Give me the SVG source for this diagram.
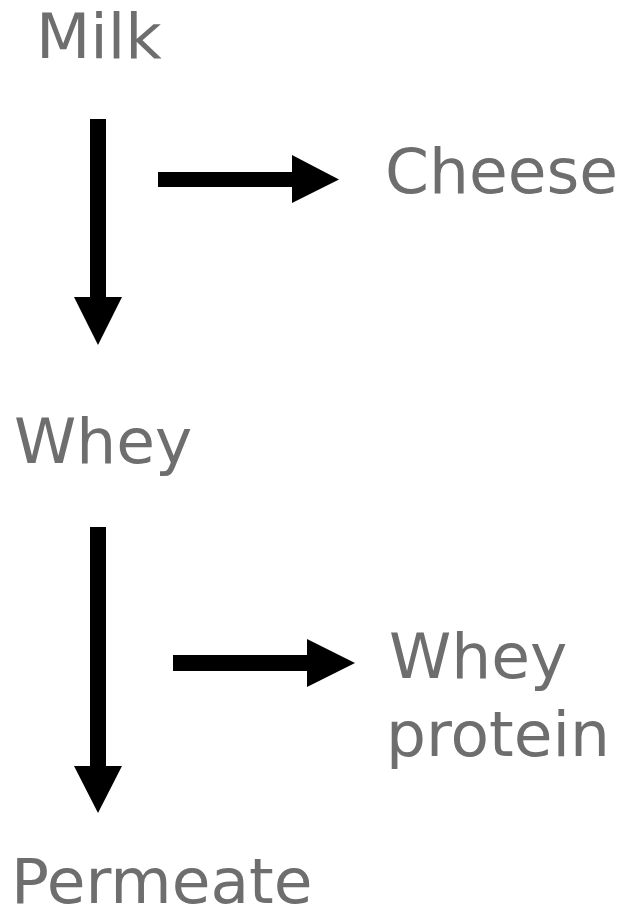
<svg xmlns="http://www.w3.org/2000/svg" width="621" height="907" viewBox="0 0 621 907">
  <style>
    .label { font-family: "DejaVu Sans", Verdana, sans-serif; font-size: 63px; fill: #6e6e6e; }
    .arrow { fill: #000000; }
  </style>
  <rect width="621" height="907" fill="#ffffff"/>

  <g id="node-milk"><text class="label" x="36" y="58">Milk</text></g>
  <g id="node-cheese"><text class="label" x="385" y="193">Cheese</text></g>
  <g id="node-whey"><text class="label" x="14" y="463">Whey</text></g>
  <g id="node-whey-protein">
    <text class="label" x="389" y="678">Whey</text>
    <text class="label" x="386" y="756">protein</text>
  </g>
  <g id="node-permeate"><text class="label" x="11" y="903">Permeate</text></g>

  <g id="connectors">
    <!-- Milk to Whey -->
    <polygon class="arrow" points="90,119 106,119 106,297 122,297 98,345 74,297 90,297"/>
    <!-- to Cheese -->
    <polygon class="arrow" points="158,172 292,172 292,155 339,179.5 292,203 292,187 158,187"/>
    <!-- Whey to Permeate -->
    <polygon class="arrow" points="90,527 106,527 106,766 122,766 98,813 74,766 90,766"/>
    <!-- to Whey protein -->
    <polygon class="arrow" points="173,655 307,655 307,639 355,663 307,687 307,671 173,671"/>
  </g>
</svg>
